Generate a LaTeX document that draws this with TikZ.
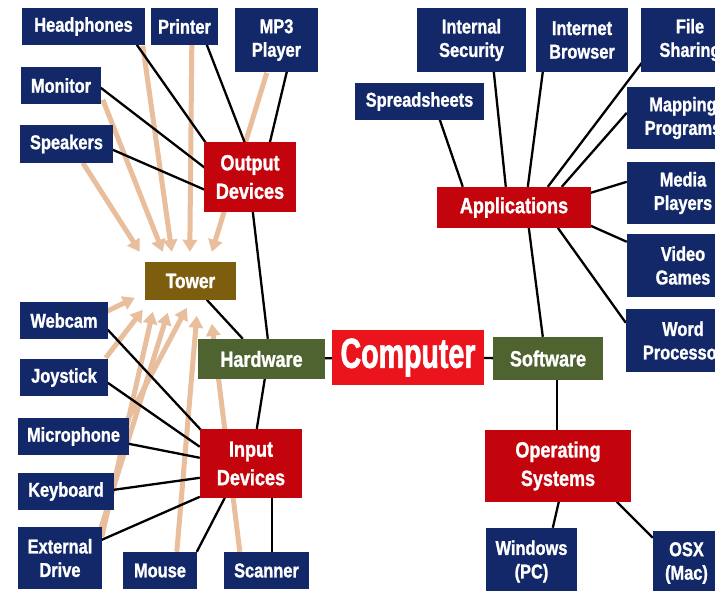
\documentclass[tikz,border=0pt]{standalone}
\usepackage{fontspec}
\setmainfont{Liberation Sans}
\newfontfamily\bxf{Liberation Sans Bold}[FakeStretch=0.82,FakeBold=1.2]
\newfontfamily\compfont{Liberation Sans Bold}[FakeStretch=0.68,FakeBold=1.5]
\usetikzlibrary{calc,arrows.meta}
\definecolor{navy}{RGB}{18,40,104}
\definecolor{dred}{RGB}{196,4,12}
\definecolor{bred}{RGB}{236,20,28}
\definecolor{olivebr}{RGB}{124,94,14}
\definecolor{hgreen}{RGB}{78,99,48}
\definecolor{tanc}{RGB}{233,190,156}
\pgfdeclarelayer{bgw}
\pgfdeclarelayer{arrs}
\pgfdeclarelayer{lns}
\pgfsetlayers{bgw,arrs,lns,main}
\tikzset{
  boxbase/.style={inner sep=0pt, align=center, text=white},
  nb/.style={boxbase, fill=navy, font=\bxf\fontsize{20}{23.5}\selectfont},
  rb/.style={boxbase, fill=dred, font=\bxf\fontsize{22}{28.5}\selectfont},
  gb/.style={boxbase, fill=hgreen, font=\bxf\fontsize{22}{28}\selectfont},
  tb/.style={boxbase, fill=olivebr, font=\bxf\fontsize{21}{26}\selectfont},
  cb/.style={boxbase, fill=bred, font=\compfont\fontsize{42}{48}\selectfont},
  ln/.style={draw=black, line width=2.3pt},
  tarr/.style={draw=tanc, line width=5pt, -{Triangle[width=14pt,length=12pt]}}
}
\newcommand\bx[7]{\node[#1, minimum width={(#4-#2)*1pt}, minimum height={(#5-#3)*1pt}] (#6) at ({(#2+#4)/2},{(#3+#5)/2}) {#7};}
\newcommand\cn[6]{\draw[ln] ($(#1.north west)+(#2,#3)$) -- ($(#4.north west)+(#5,#6)$);}
\newcommand\ar[6]{\draw[tarr] ($(#1.north west)+(#2,#3)$) -- ($(#4.north west)+(#5,#6)$);}
\begin{document}
\begin{tikzpicture}[x=1pt,y=-1pt]
\useasboundingbox (0,0) rectangle (715,591);
\clip (0,0) rectangle (715,591);
\begin{pgfonlayer}{bgw}
\fill[white] (0,0) rectangle (715,591);
\end{pgfonlayer}
% nodes
\bx{nb}{22}{8}{145}{45}{head}{Headphones}
\bx{nb}{151}{8}{218}{45}{printer}{Printer}
\bx{nb}{235}{8}{318}{72}{mp3}{MP3\\Player}
\bx{nb}{21}{67}{101}{104}{monitor}{Monitor}
\bx{nb}{20}{125}{113}{163}{speakers}{Speakers}
\bx{rb}{204}{142}{296}{212}{outdev}{Output\\Devices}
\bx{tb}{145}{262}{236}{300}{tower}{Tower}
\bx{nb}{20}{302}{108}{339}{webcam}{Webcam}
\bx{nb}{20}{359}{108}{396}{joystick}{Joystick}
\bx{nb}{18}{418}{129}{455}{micro}{Microphone}
\bx{nb}{18}{473}{114}{510}{keyboard}{Keyboard}
\bx{nb}{18}{527}{102}{589}{extdrive}{External\\Drive}
\bx{nb}{123}{552}{197}{589}{mouse}{Mouse}
\bx{nb}{224}{552}{309}{589}{scanner}{Scanner}
\bx{gb}{198}{339}{325}{379}{hardware}{Hardware}
\bx{rb}{200}{429}{302}{498}{indev}{Input\\Devices}
\bx{cb}{332}{330}{484}{385}{computer}{Computer}
\bx{gb}{493}{337}{603}{380}{software}{Software}
\bx{rb}{485}{430}{631}{502}{os}{Operating\\Systems}
\bx{nb}{486}{528}{577}{595}{windows}{Windows\\(PC)}
\bx{nb}{653}{531}{720}{595}{osx}{OSX\\(Mac)}
\bx{nb}{626}{309}{740}{372}{word}{Word\\Processor}
\bx{nb}{417}{8}{526}{72}{intsec}{Internal\\Security}
\bx{nb}{536}{8}{628}{72}{browser}{Internet\\Browser}
\bx{nb}{641}{8}{739}{72}{fileshare}{File\\Sharing}
\bx{nb}{355}{83}{484}{120}{spread}{Spreadsheets}
\bx{nb}{627}{87}{739}{149}{mapping}{Mapping\\Programs}
\bx{nb}{627}{162}{739}{224}{media}{Media\\Players}
\bx{nb}{627}{234}{739}{297}{video}{Video\\Games}
\bx{rb}{437}{187}{591}{228}{apps}{Applications}
% tan arrows to tower
\begin{pgfonlayer}{arrs}
\ar{speakers}{63}{38}{tower}{-5}{-10}
\ar{monitor}{82}{33}{tower}{18}{-10}
\ar{head}{121}{38}{tower}{27}{-10}
\ar{printer}{41}{37}{tower}{45}{-10}
\ar{mp3}{32}{65}{tower}{67}{-10}
\ar{webcam}{86}{10}{tower}{-10}{36}
\ar{joystick}{86}{-1}{tower}{-2}{48}
\ar{extdrive}{84}{10}{tower}{8}{50}
\ar{extdrive}{82}{5}{tower}{23}{51}
\ar{micro}{107}{7}{tower}{42}{46}
\ar{mouse}{54}{0}{tower}{52}{54}
\ar{scanner}{16}{0}{tower}{67}{62}
\end{pgfonlayer}
% black connectors
\begin{pgfonlayer}{lns}
\cn{head}{115}{37}{outdev}{2}{1}
\cn{printer}{56}{37}{outdev}{41}{1}
\cn{mp3}{52}{64}{outdev}{66}{1}
\cn{monitor}{80}{21}{outdev}{1}{26}
\cn{speakers}{93}{25}{outdev}{1}{48}
\cn{outdev}{49}{70}{hardware}{70}{0}
\cn{tower}{62}{38}{hardware}{45}{0}
\cn{webcam}{88}{28}{indev}{1}{1}
\cn{joystick}{88}{24}{indev}{0}{18}
\cn{micro}{111}{26}{indev}{0}{29}
\cn{keyboard}{96}{17}{indev}{0}{49}
\cn{extdrive}{84}{13}{indev}{0}{68}
\cn{mouse}{74}{0}{indev}{25}{69}
\cn{scanner}{48}{0}{indev}{72}{69}
\cn{indev}{57}{0}{hardware}{67}{40}
\draw[ln] (hardware.center) -- (computer.center);
\draw[ln] (computer.center) -- (software.center);
\cn{software}{64}{43}{os}{72}{0}
\cn{os}{74}{72}{windows}{67}{0}
\cn{os}{132}{72}{osx}{0}{7}
\cn{software}{50}{0}{apps}{92}{41}
\cn{apps}{121}{41}{word}{0}{14}
\cn{apps}{26}{0}{spread}{85}{37}
\cn{apps}{69}{0}{intsec}{77}{64}
\cn{apps}{91}{0}{browser}{7}{64}
\cn{apps}{111}{0}{fileshare}{1}{55}
\cn{apps}{125}{0}{mapping}{0}{26}
\cn{apps}{154}{6}{media}{0}{20}
\cn{apps}{154}{39}{video}{0}{8}
\end{pgfonlayer}
\end{tikzpicture}
\end{document}
